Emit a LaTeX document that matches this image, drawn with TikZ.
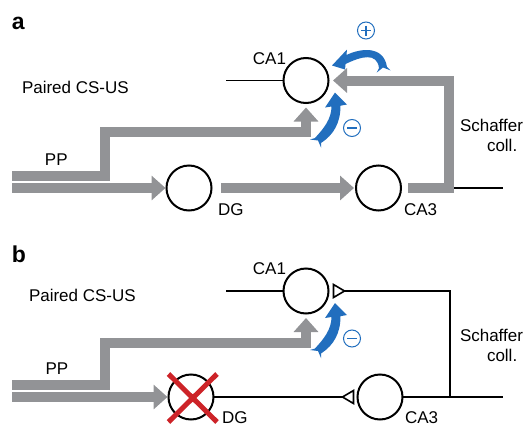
\documentclass[tikz,border=0pt]{standalone}
\usepackage{fontspec}
\setmainfont{Liberation Sans}
\usetikzlibrary{arrows.meta,calc}
\definecolor{bargray}{RGB}{146,147,150}
\definecolor{ablue}{RGB}{33,110,190}
\definecolor{xred}{RGB}{205,35,40}
\begin{document}
\begin{tikzpicture}[x=1pt,y=-1pt,
  cell/.style={circle,draw,line width=2pt,minimum size=45pt,inner sep=0pt,outer sep=0pt},
  lbl/.style={font=\fontsize{17}{20}\selectfont,inner sep=0pt,outer sep=0pt},
  panel/.style={font=\fontsize{23}{26}\selectfont\bfseries,inner sep=0pt,outer sep=0pt},
  graybar/.style={draw=bargray,line width=10pt,line join=miter,-{Triangle[width=24pt,length=14pt]}},
  axon/.style={line width=1.6pt,line join=miter},
  terminal/.style={draw,line width=1.6pt,fill=white,line join=miter},
  bluefill/.style={fill=ablue,draw=none},
  sign/.style={circle,draw=ablue,line width=1pt,minimum size=17pt,inner sep=0pt},
  signline/.style={draw=ablue,line width=1.1pt},
  xmark/.style={draw=xred,line width=5pt}
]
\useasboundingbox (0,0) rectangle (531,426);

% ---------------- panel a ----------------
\node[panel,anchor=base west] (pa) at (12,29) {a};
\node[cell] (ca1a) at (306,80.5) {};
\node[cell] (dga) at (189,188) {};
\node[cell] (ca3a) at (378.5,188) {};

\coordinate (ppa1) at (12,176);
\coordinate (ppa2) at (12,188);
\coordinate (csa) at (226,80.5);
\coordinate (sca0) at (454,188);
\coordinate (sca1) at (503,188);

\draw[graybar,shorten >=4.5pt] (ppa1) -| (105,132) -| (ca1a.south);
\draw[graybar] (ppa2) -- ([xshift=-1pt]dga.west);
\draw[graybar] ([xshift=9.5pt]dga.east) -- ([xshift=-2pt]ca3a.west);
\draw[graybar] ([xshift=7pt]ca3a.east) -| (449,80.5) -- ([xshift=4.5pt]ca1a.east);
\draw[axon] (csa) -- (ca1a.west);
\draw[axon] (sca0) -- (sca1);

% blue curved arrows (filled shapes, relative to CA1)
\begin{scope}[shift={(ca1a)}]
  \fill[bluefill] (26,-15) -- (39,-11) -- (39.55,-16.5) .. controls (55,-24) and (71,-28.5) .. (73,-12.4)
     -- (70.7,-7.9) -- (77,-13) -- (84.5,-10.1) -- (81,-13.6)
     .. controls (77.5,-35) and (55,-32.5) .. (40.45,-25.5) -- (41,-31) -- cycle;
  \fill[bluefill] (29,12) -- (41,24) -- (34.5,25.2) .. controls (34.5,42) and (28,54) .. (15.2,62.4)
     -- (15.2,67.4) -- (12,60) -- (4,59) -- (8.8,57.6)
     .. controls (18,48) and (25.5,38) .. (25.5,26) -- (19,27) -- cycle;
\end{scope}
\node[sign] (plusa) at ($(ca1a)+(60,-50)$) {};
\draw[signline] ($(plusa)+(-5,0)$) -- ($(plusa)+(5,0)$) ($(plusa)+(0,-5)$) -- ($(plusa)+(0,5)$);
\node[sign] (minusa) at ($(ca1a)+(46,47.5)$) {};
\draw[signline] ($(minusa)+(-5,0)$) -- ($(minusa)+(5,0)$);

\node[lbl,anchor=base east] (ca1la) at (286,64) {CA1};
\node[lbl,anchor=base west] (pcsa) at (22,93.5) {Paired CS-US};
\node[lbl,anchor=base west] (ppla) at (45,165) {PP};
\node[lbl,anchor=base west] (dgla) at (218,215) {DG};
\node[lbl,anchor=base west] (ca3la) at (404,215) {CA3};
\node[lbl,anchor=base west] (scha) at (460,131) {Schaffer};
\node[lbl,anchor=base west] (colla) at (487,151) {coll.};

% ---------------- panel b ----------------
\node[panel,anchor=base west] (pb) at (12,262) {b};
\node[cell] (ca1b) at (306,291) {};
\node[cell] (dgb) at (191,397) {};
\node[cell] (ca3b) at (380,397) {};

\coordinate (ppb1) at (12,385);
\coordinate (ppb2) at (12,397);
\coordinate (csb) at (226,291);
\coordinate (jb) at (450,397);
\coordinate (scb1) at (503,397);
% synaptic terminals: base against the cell, tip toward the axon
\coordinate (tca1) at ($(ca1b.east)+(16,0)$);
\coordinate (tca3) at ($(ca3b.west)+(-15,0)$);

\draw[graybar,shorten >=4.5pt] (ppb1) -| (105,342.5) -| (ca1b.south);
\draw[graybar] (ppb2) -- ([xshift=-1pt]dgb.west);
\draw[axon] (csb) -- (ca1b.west);
\draw[axon] (ca3b.east) -- (scb1);
\draw[axon] (jb) |- (tca1);
\draw[axon] (dgb.east) -- (tca3);
\draw[terminal] (tca1) -- ($(tca1)+(-11,-6.5)$) -- ($(tca1)+(-11,6.5)$) -- cycle;
\draw[terminal] (tca3) -- ($(tca3)+(11,-6.5)$) -- ($(tca3)+(11,6.5)$) -- cycle;

\begin{scope}[shift={(ca1b)}]
  \fill[bluefill] (29,12) -- (41,24) -- (34.5,25.2) .. controls (34.5,42) and (28,54) .. (15.2,62.4)
     -- (15.2,67.4) -- (12,60) -- (4,59) -- (8.8,57.6)
     .. controls (18,48) and (25.5,38) .. (25.5,26) -- (19,27) -- cycle;
\end{scope}
\node[sign] (minusb) at ($(ca1b)+(46,47.5)$) {};
\draw[signline] ($(minusb)+(-5,0)$) -- ($(minusb)+(5,0)$);

\draw[xmark] ($(dgb)+(-22.5,-23)$) -- ($(dgb)+(26,25)$) ($(dgb)+(26,-23)$) -- ($(dgb)+(-22.5,25)$);

\node[lbl,anchor=base east] (ca1lb) at (286,274.5) {CA1};
\node[lbl,anchor=base west] (pcsb) at (29,301) {Paired CS-US};
\node[lbl,anchor=base west] (pplb) at (45.5,374) {PP};
\node[lbl,anchor=base west] (dglb) at (222,423) {DG};
\node[lbl,anchor=base west] (ca3lb) at (405,423) {CA3};
\node[lbl,anchor=base west] (schb) at (460,341.5) {Schaffer};
\node[lbl,anchor=base west] (collb) at (487,361.5) {coll.};
\end{tikzpicture}
\end{document}
